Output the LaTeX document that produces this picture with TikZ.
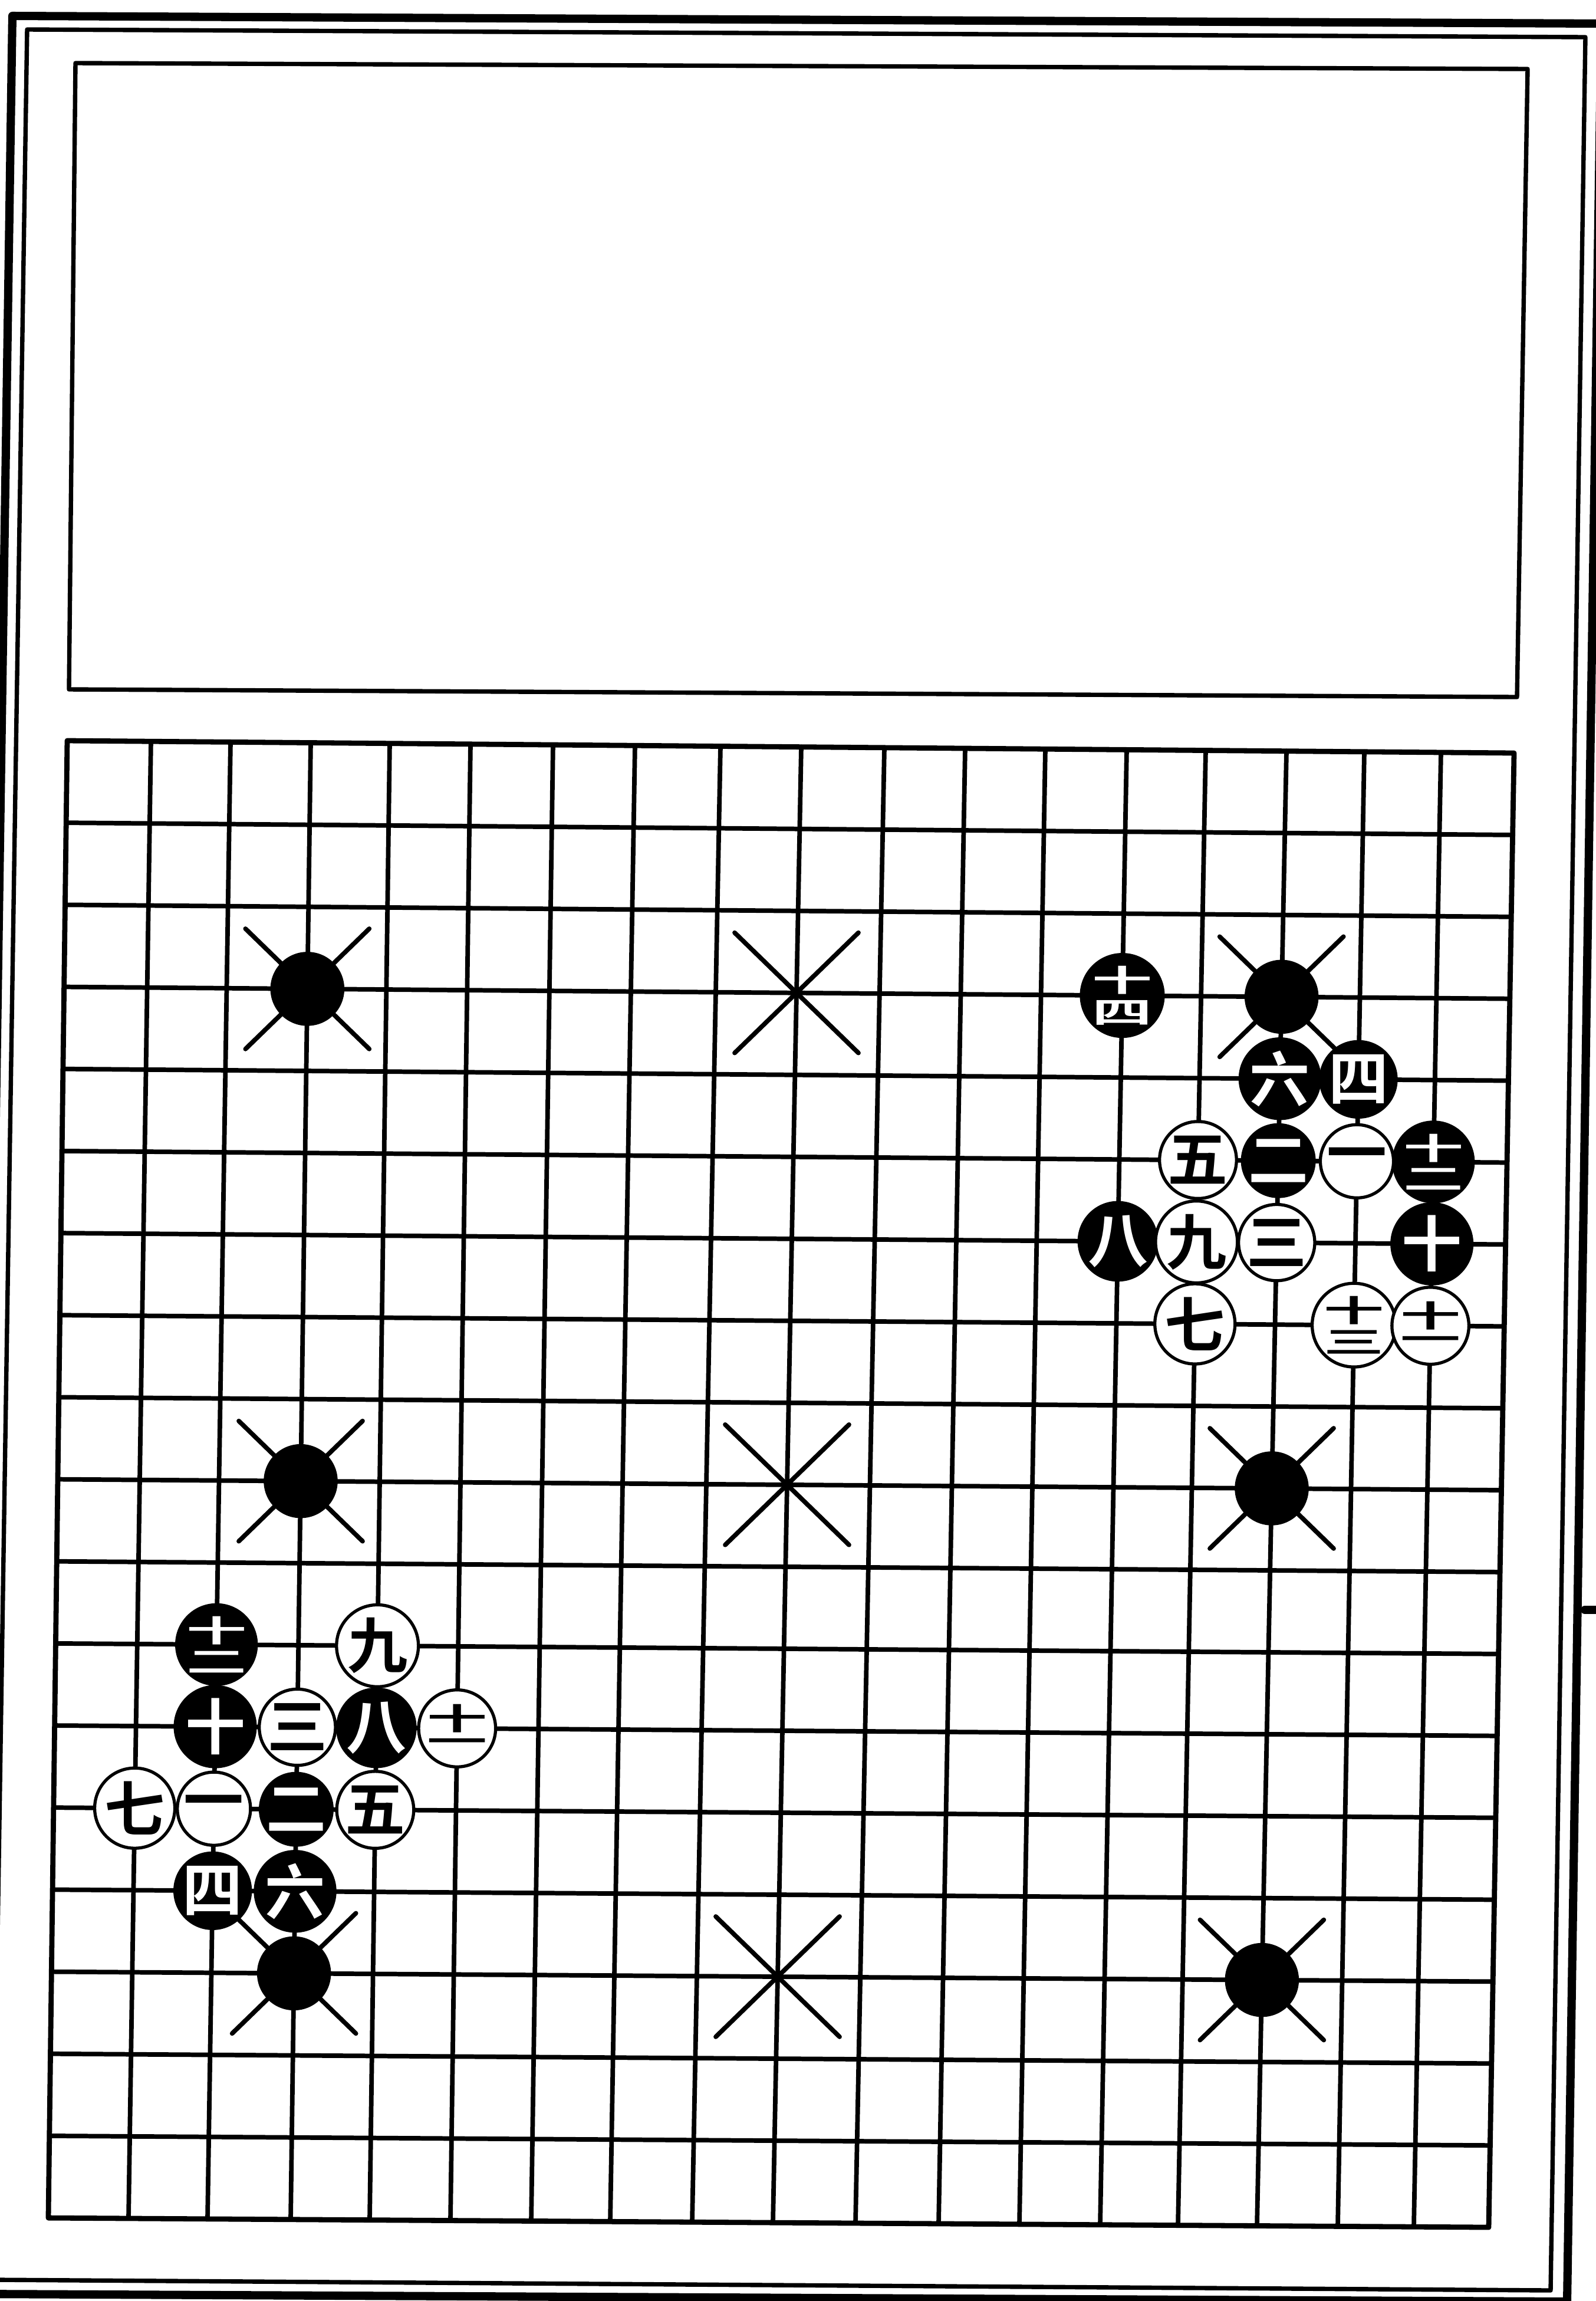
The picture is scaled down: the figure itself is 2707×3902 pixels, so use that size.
\documentclass[tikz,border=0pt]{standalone}
\usepackage{fontspec}
\usepackage{graphicx}
\newfontfamily\cjk{Noto Sans CJK SC Bold}
\newcommand\stk[2]{\shortstack{\scalebox{1}[0.5]{#1}\\\scalebox{1}[0.5]{#2}}}
\begin{document}
\begin{tikzpicture}[x=0.01cm,y=-0.01cm,line join=round,line cap=round,
  gridline/.style={line width=2.2pt},
  edgeline/.style={line width=2.5pt},
  thickframe/.style={line width=4pt},
  thinframe/.style={line width=2.1pt},
  starx/.style={line width=2.2pt},
  stone/.style={circle,minimum size=1.24cm,inner sep=0pt,font=\cjk\fontsize{29}{29}\selectfont},
  bstone/.style={stone,fill=black,draw=black,text=white},
  wstone/.style={stone,fill=white,draw=black,line width=1.5pt,text=black}]
\useasboundingbox (0,0) rectangle (2707,3902);
\clip (0,0) rectangle (2707,3902);
% page frame
\draw[thickframe] (21,27) -- (2716,40) -- (2658,3903) -- (-37,3890) -- cycle;
\draw[thinframe] (46,50) -- (2689,63) -- (2630,3884) -- (-13,3866) -- cycle;
\draw[thickframe] (2688,2730) -- (2712,2730);
% empty commentary box
\draw[thinframe] (128,107) -- (2591,117) -- (2573,1182) -- (117,1169) -- cycle;
% board intersections
\def\xTL{{114,256,391,527,661,798,938,1077,1222,1359,1500,1637,1773,1911,2045,2182,2314,2444,2568}}
\def\xBL{{82,218,352,493,627,764,901,1035,1174,1311,1451,1592,1729,1866,1998,2132,2269,2398,2525}}
\foreach \i in {0,...,18}{
  \foreach \k in {0,...,18}{
    \pgfmathsetmacro\px{\xTL[\i]+\k/18*(\xBL[\i]-\xTL[\i])}
    \pgfmathsetmacro\py{1256+\k*139.17+\i/18*(21-\k*0.28)}
    \coordinate (p-\i-\k) at (\px,\py);
  }
}
% grid
\foreach \i in {1,...,17}{
  \draw[gridline] (p-\i-0) -- (p-\i-18);
  \draw[gridline] (p-0-\i) -- (p-18-\i);
}
\draw[edgeline] (p-0-0) -- (p-18-0) -- (p-18-18) -- (p-0-18) -- cycle;
% star point crosses
\foreach \i/\k in {3/3,9/3,15/3,3/9,9/9,15/9,3/15,9/15,15/15}{
  \draw[starx] (p-\i-\k) +(-105,-102) -- +(105,102) +(-105,102) -- +(105,-102);
}
% black stones on star points
\node[bstone] (s-a) at (p-3-3) {};
\node[bstone] (s-b) at (p-15-3) {};
\node[bstone] (s-c) at (p-3-9) {};
\node[bstone] (s-d) at (p-15-9) {};
\node[bstone] (s-e) at (p-3-15) {};
\node[bstone] (s-f) at (p-15-15) {};
% upper right sequence
\node[bstone] (tr14) at (p-13-3) {\stk{十}{四}};
\node[bstone] (tr6) at (p-15-4) {六};
\node[bstone] (tr4) at (p-16-4) {四};
\node[wstone] (tr5) at (p-14-5) {五};
\node[bstone] (tr2) at (p-15-5) {二};
\node[wstone] (tr1) at (p-16-5) {一};
\node[bstone] (tr12) at (p-17-5) {\stk{十}{二}};
\node[bstone] (tr8) at (p-13-6) {八};
\node[wstone] (tr9) at (p-14-6) {九};
\node[wstone] (tr3) at (p-15-6) {三};
\node[bstone] (tr10) at (p-17-6) {十};
\node[wstone] (tr7) at (p-14-7) {七};
\node[wstone] (tr13) at (p-16-7) {\stk{十}{三}};
\node[wstone] (tr11) at (p-17-7) {\stk{十}{一}};
% lower left sequence
\node[bstone] (bl12) at (p-2-11) {\stk{十}{二}};
\node[wstone] (bl9) at (p-4-11) {九};
\node[bstone] (bl10) at (p-2-12) {十};
\node[wstone] (bl3) at (p-3-12) {三};
\node[bstone] (bl8) at (p-4-12) {八};
\node[wstone] (bl11) at (p-5-12) {\stk{十}{一}};
\node[wstone] (bl7) at (p-1-13) {七};
\node[wstone] (bl1) at (p-2-13) {一};
\node[bstone] (bl2) at (p-3-13) {二};
\node[wstone] (bl5) at (p-4-13) {五};
\node[bstone] (bl4) at (p-2-14) {四};
\node[bstone] (bl6) at (p-3-14) {六};
\end{tikzpicture}
\end{document}
